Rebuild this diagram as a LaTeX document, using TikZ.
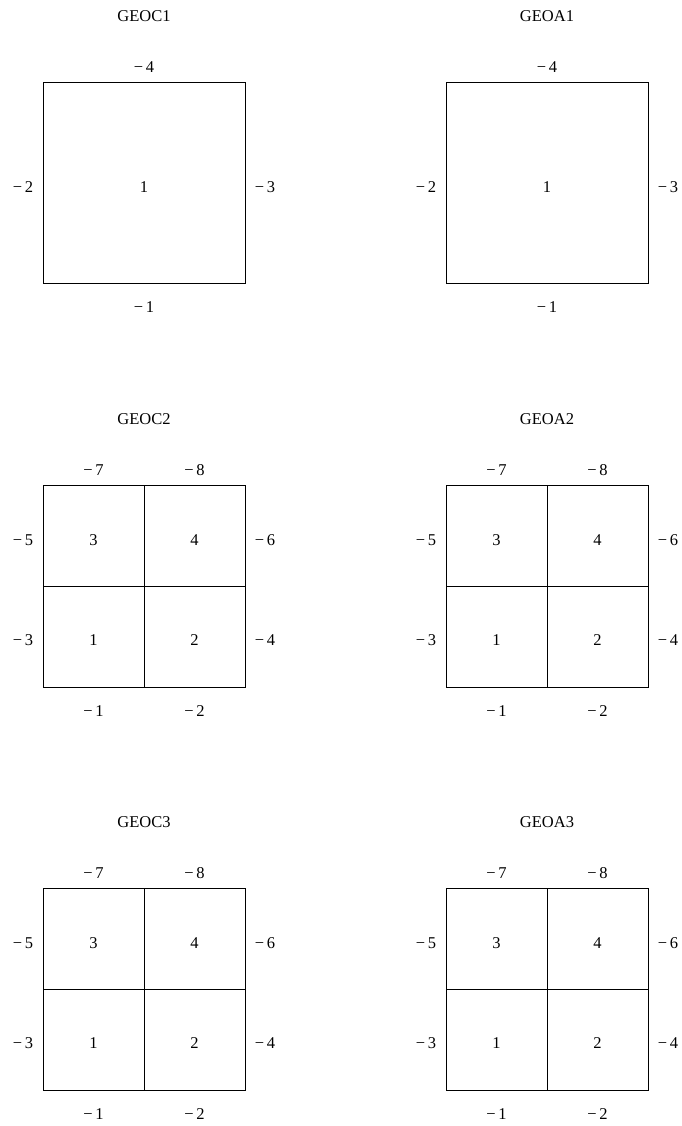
\documentclass[tikz,border=0pt]{standalone}
\usepackage{fontspec}
\setmainfont{Liberation Serif}
\tikzset{
  cellbox/.style={draw=black, line width=0.9pt, minimum width=101pt, minimum height=101pt, inner sep=0pt, outer sep=0pt},
  bigbox/.style={draw=black, line width=0.9pt, minimum width=202pt, minimum height=201pt, inner sep=0pt, outer sep=0pt},
  lbl/.style={inner sep=0pt, font=\fontsize{16.5}{19}\selectfont},
}
% one-cell grid: #1 prefix, #2 x of left, #3 y of top (image coords), #4 title
\newcommand{\gridsingle}[4]{%
  \node[bigbox] (#1box) at (#2+101,-#3-100.5) {};
  \node[lbl] (#1title) at (#2+101,-#3+66) {#4};
  \node[lbl] (#1c1) at (#2+101,-#3-105) {1};
  \node[lbl] (#1t) at (#2+101,-#3+15) {−\,4};
  \node[lbl] (#1b) at (#2+101,-#3-225.5) {−\,1};
  \node[lbl] (#1l) at (#2-20,-#3-105) {−\,2};
  \node[lbl] (#1r) at (#2+222,-#3-105) {−\,3};
}
% four-cell grid
\newcommand{\gridquad}[4]{%
  \node[cellbox] (#1a) at (#2+50.5,-#3-151.5) {};
  \node[cellbox] (#1b) at (#2+151.5,-#3-151.5) {};
  \node[cellbox] (#1c) at (#2+50.5,-#3-50.5) {};
  \node[cellbox] (#1d) at (#2+151.5,-#3-50.5) {};
  \node[lbl] (#1title) at (#2+101,-#3+66) {#4};
  \node[lbl] (#1n1) at (#2+50.5,-#3-155.5) {1};
  \node[lbl] (#1n2) at (#2+151.5,-#3-155.5) {2};
  \node[lbl] (#1n3) at (#2+50.5,-#3-55.5) {3};
  \node[lbl] (#1n4) at (#2+151.5,-#3-55.5) {4};
  \node[lbl] (#1m7) at (#2+50.5,-#3+15) {−\,7};
  \node[lbl] (#1m8) at (#2+151.5,-#3+15) {−\,8};
  \node[lbl] (#1m1) at (#2+50.5,-#3-226) {−\,1};
  \node[lbl] (#1m2) at (#2+151.5,-#3-226) {−\,2};
  \node[lbl] (#1m5) at (#2-20,-#3-55.5) {−\,5};
  \node[lbl] (#1m3) at (#2-20,-#3-155.5) {−\,3};
  \node[lbl] (#1m6) at (#2+222,-#3-55.5) {−\,6};
  \node[lbl] (#1m4) at (#2+222,-#3-155.5) {−\,4};
}
\begin{document}
\begin{tikzpicture}[x=1pt,y=1pt]
\useasboundingbox (0,0) rectangle (681,-1126);
\gridsingle{ca}{43}{82}{GEOC1}
\gridsingle{aa}{446}{82}{GEOA1}
\gridquad{cb}{43}{485}{GEOC2}
\gridquad{ab}{446}{485}{GEOA2}
\gridquad{cc}{43}{888}{GEOC3}
\gridquad{ac}{446}{888}{GEOA3}
\end{tikzpicture}
\end{document}
